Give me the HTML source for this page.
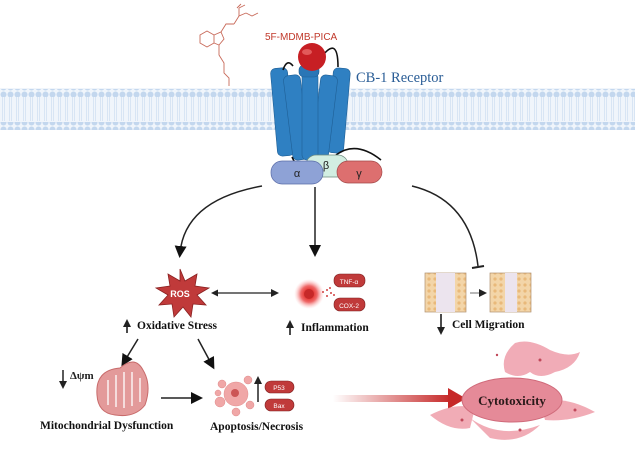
<!DOCTYPE html>
<html><head><meta charset="utf-8"><style>
body{margin:0;background:#fff}
svg{display:block}
.b{font-family:"Liberation Serif",serif;font-weight:bold;font-size:11.5px;fill:#111}
</style></head><body>
<svg width="635" height="453" viewBox="0 0 635 453" xmlns="http://www.w3.org/2000/svg">
<defs>
<pattern id="dots" width="7" height="7" patternUnits="userSpaceOnUse"><circle cx="3.5" cy="3.5" r="3" fill="#c3d7ee"/></pattern>
<pattern id="lines" width="7" height="20" patternUnits="userSpaceOnUse"><line x1="2.5" y1="0" x2="2.5" y2="20" stroke="#d8e5f4" stroke-width="1"/><line x1="4.5" y1="0" x2="4.5" y2="20" stroke="#d8e5f4" stroke-width="1"/></pattern>
<pattern id="cells" width="6" height="6" patternUnits="userSpaceOnUse"><rect width="6" height="6" fill="#f3d5a8"/><circle cx="3" cy="3" r="1.6" fill="#e9b97a"/></pattern>
<linearGradient id="ga" x1="0" x2="1"><stop offset="0" stop-color="#c62828" stop-opacity="0"/><stop offset="1" stop-color="#c62828"/></linearGradient>
<radialGradient id="glow"><stop offset="0.3" stop-color="#e53935"/><stop offset="0.55" stop-color="#ef6b6b"/><stop offset="1" stop-color="#ffd0d0" stop-opacity="0"/></radialGradient>
<marker id="ah" markerWidth="8" markerHeight="8" refX="5" refY="4" orient="auto" markerUnits="userSpaceOnUse"><path d="M0,0 L8,4 L0,8 Z" fill="#222"/></marker>
<marker id="ah2" markerWidth="12" markerHeight="12" refX="7" refY="6" orient="auto" markerUnits="userSpaceOnUse"><path d="M0,0 L12,6 L0,12 Z" fill="#111"/></marker>
<marker id="ahs" markerWidth="7" markerHeight="7" refX="0" refY="3.5" orient="auto-start-reverse" markerUnits="userSpaceOnUse"><path d="M0,0 L7,3.5 L0,7 Z" fill="#222"/></marker>
</defs>
<rect x="0" y="88" width="635" height="42" fill="#f0f5fb"/>
<rect x="0" y="97" width="635" height="24" fill="url(#lines)"/>
<rect x="0" y="89" width="635" height="8" fill="url(#dots)"/>
<rect x="0" y="122" width="635" height="8" fill="url(#dots)"/>
<g stroke="#c86a5a" stroke-width="0.9" fill="none">
<path d="M200,35 l7,-4 l7,4 l0,8 l-7,4 l-7,-4 z"/><path d="M214,35 l7,-3 l3,7 l-5,6 l-5,-2"/>
<path d="M221,32 l5,-8 l8,0"/><path d="M234,24 l5,-8 l7,-3"/><path d="M239,16 l0,-8 M237,8 l4,-4 M239,8 l6,-3"/>
<path d="M246,13 l6,3 l6,-3"/><path d="M219,45 l0,10 l5,8 l0,10 l5,5 l0,8"/>
</g>
<text x="265" y="40" font-family="Liberation Sans,sans-serif" font-size="10" fill="#c0392b">5F-MDMB-PICA</text>
<text x="356" y="82" font-family="Liberation Serif,serif" font-size="14.5" fill="#2a5d96">CB-1 Receptor</text>
<g fill="#2f80c2" stroke="#1f5f96" stroke-width="0.6">
<rect x="274" y="68" width="17" height="88" rx="5" transform="rotate(-5 282 112)"/>
<rect x="288" y="75" width="17" height="85" rx="5" transform="rotate(-7 296 117)"/>
<rect x="330" y="68" width="17" height="85" rx="5" transform="rotate(5 338 110)"/>
<rect x="316" y="75" width="17" height="85" rx="5" transform="rotate(7 324 117)"/>
<rect x="302" y="72" width="16" height="88" rx="5"/>
<rect x="299" y="65" width="20" height="12" rx="5" fill="#2a76b6"/>
</g>
<g stroke="#111" stroke-width="1.6" fill="none">
<path d="M283,70 q4,-12 10,-4"/><path d="M318,62 q20,-30 20,5"/><path d="M336,155 q20,-15 45,5"/><path d="M292,157 l5,10"/>
</g>
<circle cx="312" cy="57" r="14" fill="#c71f24"/><ellipse cx="307" cy="52" rx="5" ry="3" fill="#e25a5a"/>
<rect x="306" y="155" width="42" height="22" rx="10" fill="#d2eee2" stroke="#6d8a7e" stroke-width="0.7"/>
<rect x="271" y="161" width="52" height="23" rx="11" fill="#8ea2d6" stroke="#5a6ca8" stroke-width="0.7"/>
<rect x="337" y="161" width="45" height="22" rx="11" fill="#dd6f6f" stroke="#a34848" stroke-width="0.7"/>
<text x="297" y="177" font-family="Liberation Sans" font-size="11" text-anchor="middle" fill="#222">α</text>
<text x="326" y="169" font-family="Liberation Sans" font-size="11" text-anchor="middle" fill="#222">β</text>
<text x="359" y="177" font-family="Liberation Sans" font-size="11" text-anchor="middle" fill="#222">γ</text>
<g stroke="#222" stroke-width="1.5" fill="none">
<path d="M262,186 Q185,200 180,253" marker-end="url(#ah2)"/>
<path d="M315,187 L315,252" marker-end="url(#ah2)"/>
<path d="M412,186 Q470,200 478,266"/>
<path d="M472,268 L484,266" stroke-width="2"/>
<path d="M218,293 L276,293" marker-start="url(#ahs)" marker-end="url(#ah)" stroke-width="1.2"/>
</g>
<path d="M180,269 l5,12 l12,-7 l-2,12 l14,2 l-12,7 l9,10 l-13,-1 l-2,13 l-8,-10 l-9,10 l-2,-13 l-13,1 l9,-10 l-12,-7 l14,-2 l-2,-12 l12,7 z" fill="#c03a3a" stroke="#8a2020" stroke-width="0.8"/>
<text x="180" y="297" font-family="Liberation Sans" font-weight="bold" font-size="9" fill="#fff" text-anchor="middle">ROS</text>
<text class="b" x="137" y="329">Oxidative Stress</text>
<path d="M127,333 L127,322" stroke="#111" stroke-width="1.5" marker-end="url(#ah)"/>
<circle cx="309" cy="294" r="15" fill="url(#glow)"/><circle cx="309" cy="294" r="5" fill="#c62828"/>
<g fill="#d04040"><circle cx="323" cy="292" r="1"/><circle cx="327" cy="290" r="1"/><circle cx="327" cy="296" r="1"/><circle cx="331" cy="293" r="1"/><circle cx="330" cy="288" r="1"/><circle cx="334" cy="295" r="1"/></g>
<rect x="334" y="274" width="31" height="13" rx="6" fill="#c03a3a" stroke="#7d1f1f" stroke-width="0.6"/>
<rect x="334" y="298" width="31" height="13" rx="6" fill="#c03a3a" stroke="#7d1f1f" stroke-width="0.6"/>
<text x="349" y="284" font-family="Liberation Sans" font-size="6.5" fill="#fff" text-anchor="middle">TNF-α</text>
<text x="349" y="308" font-family="Liberation Sans" font-size="6.5" fill="#fff" text-anchor="middle">COX-2</text>
<text class="b" x="301" y="331">Inflammation</text>
<path d="M290,335 L290,323" stroke="#111" stroke-width="1.5" marker-end="url(#ah)"/>
<rect x="425" y="273" width="41" height="39" fill="url(#cells)" stroke="#b09070" stroke-width="0.7"/>
<rect x="436" y="273" width="19" height="39" fill="#ece4ee"/>
<rect x="490" y="273" width="41" height="39" fill="url(#cells)" stroke="#b09070" stroke-width="0.7"/>
<rect x="505" y="273" width="12" height="39" fill="#ece4ee"/>
<path d="M470,293 L484,293" stroke="#333" stroke-width="0.7" marker-end="url(#ah)"/>
<text class="b" x="452" y="328">Cell Migration</text>
<path d="M441,314 L441,332" stroke="#111" stroke-width="1.5" marker-end="url(#ah)"/>
<g stroke="#222" stroke-width="1.5" fill="none">
<path d="M138,339 L124,362" marker-end="url(#ah2)"/>
<path d="M198,339 L212,365" marker-end="url(#ah2)"/>
<path d="M161,398 L198,398" marker-end="url(#ah2)"/>
<path d="M258,402 L258,379" marker-end="url(#ah)"/>
<path d="M63,370 L63,386" marker-end="url(#ah)"/>
</g>
<text x="70" y="379" font-family="Liberation Serif" font-weight="bold" font-size="11" fill="#222">Δψm</text>
<path d="M97,395 Q95,370 120,368 Q135,355 143,370 Q152,385 145,405 Q135,418 115,415 Q98,413 97,395 Z" fill="#e39a9a" stroke="#c86b6b"/>
<g stroke="#fff" stroke-width="1.3" fill="none"><path d="M108,380 v25 M116,375 v32 M124,372 v36 M132,372 v34 M140,378 v24"/></g>
<text class="b" x="40" y="429">Mitochondrial Dysfunction</text>
<g fill="#f0a7a7" stroke="#e08a8a" stroke-width="0.5"><circle cx="236" cy="394" r="12"/><circle cx="222" cy="384" r="4"/><circle cx="248" cy="380" r="4"/><circle cx="220" cy="402" r="5"/><circle cx="250" cy="405" r="4"/><circle cx="236" cy="412" r="4"/><circle cx="218" cy="393" r="3"/></g>
<circle cx="235" cy="393" r="4" fill="#c55"/>
<rect x="265" y="381" width="29" height="12" rx="6" fill="#c03a3a" stroke="#7d1f1f" stroke-width="0.6"/>
<rect x="265" y="399" width="29" height="12" rx="6" fill="#c03a3a" stroke="#7d1f1f" stroke-width="0.6"/>
<text x="279" y="390" font-family="Liberation Sans" font-size="6.5" fill="#fff" text-anchor="middle">P53</text>
<text x="279" y="408" font-family="Liberation Sans" font-size="6.5" fill="#fff" text-anchor="middle">Bax</text>
<text class="b" x="210" y="430">Apoptosis/Necrosis</text>
<rect x="333" y="395" width="118" height="7" fill="url(#ga)"/>
<path d="M448,388 L466,398.5 L448,409 Z" fill="#c62828"/>
<g fill="#ef9eaa" opacity="0.85">
<path d="M515,343 Q530,338 550,350 Q568,358 580,352 Q575,368 555,372 Q540,380 530,372 Q518,380 505,372 Q500,356 515,343 Z"/>
<path d="M430,415 Q455,402 475,408 L470,428 Q450,432 430,415 Z"/>
<path d="M540,402 Q565,395 595,412 Q570,422 545,420 Z"/>
<path d="M470,418 Q500,440 540,425 Q520,445 490,438 Z"/>
</g>
<g fill="#c0485a"><circle cx="462" cy="420" r="1.5"/><circle cx="540" cy="360" r="1.5"/><circle cx="575" cy="410" r="1.5"/><circle cx="520" cy="430" r="1.5"/><circle cx="497" cy="355" r="1.2"/></g>
<ellipse cx="512" cy="400" rx="50" ry="22" fill="#e58a98" stroke="#d06a7a"/>
<text x="512" y="405" font-family="Liberation Serif" font-weight="bold" font-size="13" fill="#2a1a1a" text-anchor="middle">Cytotoxicity</text>
</svg>
</body></html>
